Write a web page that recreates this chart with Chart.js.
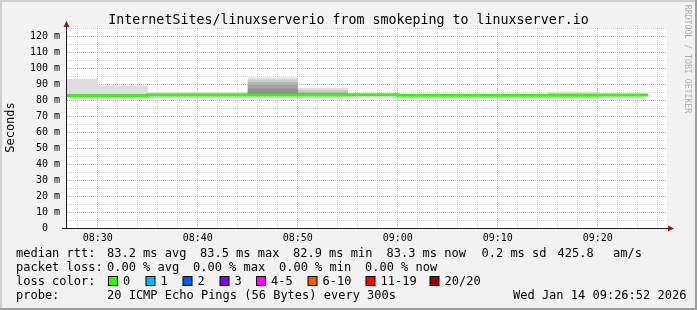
<!DOCTYPE html>
<html lang="en">
<head>
<meta charset="utf-8">
<title>InternetSites/linuxserverio</title>
<script src="https://cdn.jsdelivr.net/npm/chart.js@4.4.1/dist/chart.umd.min.js"></script>
<style>
  html, body { margin: 0; padding: 0; background: #f2f2f2; }
  canvas { display: block; }
</style>
</head>
<body>
<canvas id="smokeChart" width="697" height="310"></canvas>
<script>
// 5 minute steps, labelled by the end of each step
const stepEnds = ['08:30', '08:35', '08:40', '08:45', '08:50', '08:55', '09:00', '09:05', '09:10', '09:15', '09:20', '09:25'];

// median rtt per step (ms)
const medianRtt = [82.9, 82.9, 83.4, 83.4, 83.3, 83.4, 83.5, 83.1, 83.1, 83.1, 83.1, 83.3];

// smoke: lowest ping and the upper edge of each band (outer -> inner), ms
const smokeFloor = [82.4, 82.4, 82.9, 82.9, 82.9, 83.0, 83.1, 82.7, 82.7, 82.7, 82.7, 82.9];
const smokeBand1 = [93.5, 89.2, 85.2, 85.2, 94.3, 87.7, 84.1, 83.8, 83.8, 83.8, 85.4, 84.1];
const smokeBand2 = [84.0, 84.0, 84.3, 84.3, 92.9, 86.5, 84.0, 83.7, 83.7, 83.7, 84.2, 84.0];
const smokeBand3 = [83.8, 83.8, 84.1, 84.1, 91.4, 85.4, 83.9, 83.6, 83.6, 83.6, 83.9, 83.9];
const smokeBand4 = [83.6, 83.6, 84.0, 84.0, 89.7, 84.6, 83.8, 83.5, 83.5, 83.5, 83.7, 83.8];
const smokeBand5 = [83.4, 83.4, 83.8, 83.8, 87.2, 84.2, 83.7, 83.4, 83.4, 83.4, 83.5, 83.6];
const smokeBand6 = [83.2, 83.2, 83.6, 83.6, 84.6, 83.9, 83.6, 83.3, 83.3, 83.3, 83.3, 83.5];

// axes
const windowStart = '08:26:55';
const windowEnd = '09:26:55';
const timeLabels = ['08:30', '08:40', '08:50', '09:00', '09:10', '09:20'];
const rttTicks = [0, 10, 20, 30, 40, 50, 60, 70, 80, 90, 100, 110, 120];
const rttTickLabels = ['0', '10 m', '20 m', '30 m', '40 m', '50 m', '60 m', '70 m', '80 m', '90 m', '100 m', '110 m', '120 m'];
const rttMax = 125.3;

// legend text
const chartTitle = 'InternetSites/linuxserverio from smokeping to linuxserver.io';
const rttStats = ['83.2 ms avg', '83.5 ms max', '82.9 ms min', '83.3 ms now', '0.2 ms sd', '425.8', 'am/s'];
const lossStats = ['0.00 % avg', '0.00 % max', '0.00 % min', '0.00 % now'];
const lossLabels = ['0', '1', '2', '3', '4-5', '6-10', '11-19', '20/20'];
const lossColors = ['#26ff00', '#00b8ff', '#0059ff', '#7e00ff', '#ff00ff', '#ff5500', '#ff0000', '#a10000'];
const probeText = '20 ICMP Echo Pings (56 Bytes) every 300s';
const stampText = 'Wed Jan 14 09:26:52 2026';

// styles
const mono = '"DejaVu Sans Mono", monospace';
const smokeShades = ['#dddddd', '#cacaca', '#b7b7b7', '#a4a4a4', '#919191', '#7e7e7e'];
const gridMinor = 'rgba(143, 143, 143, 0.35)';
const gridMajor = 'rgba(222, 79, 79, 0.5)';
const arrowColor = '#801f1f';
const stepMinutes = 5;

function toMin(t) {
    const [h, m, s = 0] = t.split(':').map(Number);
    return h * 60 + m + s / 60;
}

const viewMin = toMin(windowStart);
const viewMax = toMin(windowEnd);
const timeTickMins = timeLabels.map(toMin);
const minorTimeTicks = [];
for (let v = Math.ceil(viewMin / 2) * 2; v < viewMax; v += 2) minorTimeTicks.push(v);
const minorRttTicks = [];
for (let v = 0; v <= rttMax; v += 5) minorRttTicks.push(v);

// step series: each value holds from its step start to its step end
function stepped(values) {
    const pts = values.map((v, i) => ({ x: toMin(stepEnds[i]) - stepMinutes, y: v }));
    pts.push({ x: toMin(stepEnds[stepEnds.length - 1]), y: values[values.length - 1] });
    return pts;
}

const hidden = 'rgba(0, 0, 0, 0)';
const datasets = [
    {
        label: 'median rtt',
        data: stepped(medianRtt),
        borderColor: lossColors[0],
        borderWidth: 3,
        stepped: 'before',
        pointRadius: 0,
        fill: false,
        order: 0,
        clip: 0
    },
    {
        label: 'floor',
        data: stepped(smokeFloor),
        borderColor: hidden,
        borderWidth: 0,
        stepped: 'before',
        pointRadius: 0,
        fill: false,
        order: 40,
        clip: 0
    }
];
[smokeBand1, smokeBand2, smokeBand3, smokeBand4, smokeBand5, smokeBand6].forEach((band, k) => {
    datasets.push({
        label: 'smoke ' + (k + 1),
        data: stepped(band),
        borderColor: hidden,
        borderWidth: 0,
        backgroundColor: smokeShades[k],
        stepped: 'before',
        pointRadius: 0,
        fill: 1,
        order: 20 - k,
        clip: 0
    });
});

// rrdtool look: background, frame, axes, arrows and legend text
const rrdFrame = {
    id: 'rrdFrame',
    beforeDraw(chart) {
        const { ctx, width, height, chartArea: a } = chart;
        ctx.save();
        ctx.fillStyle = '#f2f2f2';
        ctx.fillRect(0, 0, width, height);
        ctx.fillStyle = '#cfcfcf';
        ctx.fillRect(0, 0, width, 2);
        ctx.fillRect(0, 0, 2, height);
        ctx.fillStyle = '#9e9e9e';
        ctx.fillRect(0, height - 2, width, 2);
        ctx.fillRect(width - 2, 0, 2, height);
        ctx.fillStyle = '#ffffff';
        ctx.fillRect(a.left, a.top, a.right - a.left, a.bottom - a.top);
        ctx.restore();
    },
    afterDatasetsDraw(chart) {
        const { ctx, chartArea: a } = chart;
        ctx.save();
        ctx.strokeStyle = '#1f1f1f';
        ctx.lineWidth = 1;
        ctx.beginPath();
        ctx.moveTo(a.left - 0.5, a.bottom);
        ctx.lineTo(a.left - 0.5, a.top - 2);
        ctx.moveTo(a.left - 5, a.bottom + 0.5);
        ctx.lineTo(a.right + 1, a.bottom + 0.5);
        ctx.stroke();
        ctx.fillStyle = arrowColor;
        ctx.beginPath();
        ctx.moveTo(a.left - 3.5, a.top - 1);
        ctx.lineTo(a.left + 2.5, a.top - 1);
        ctx.lineTo(a.left - 0.5, a.top - 7);
        ctx.closePath();
        ctx.fill();
        ctx.beginPath();
        ctx.moveTo(a.right + 1, a.bottom - 2.5);
        ctx.lineTo(a.right + 1, a.bottom + 3.5);
        ctx.lineTo(a.right + 7, a.bottom + 0.5);
        ctx.closePath();
        ctx.fill();
        ctx.restore();
    },
    afterDraw(chart) {
        const { ctx, width } = chart;
        ctx.save();
        ctx.fillStyle = '#000';
        ctx.textBaseline = 'alphabetic';

        ctx.font = '13.3px ' + mono;
        ctx.textAlign = 'center';
        ctx.fillText(chartTitle, width / 2, 24);

        ctx.save();
        ctx.font = '12px ' + mono;
        ctx.translate(14, 127.5);
        ctx.rotate(-Math.PI / 2);
        ctx.fillText('Seconds', 0, 0);
        ctx.restore();

        ctx.save();
        ctx.font = '8.2px ' + mono;
        ctx.fillStyle = 'rgba(0, 0, 0, 0.3)';
        ctx.translate(684.5, 59);
        ctx.rotate(Math.PI / 2);
        ctx.fillText('RRDTOOL / TOBI OETIKER', 0, 0);
        ctx.restore();

        ctx.textAlign = 'left';
        ctx.font = '12px ' + mono;
        const col = 16, val = 107;
        // row 1: median rtt
        ctx.fillText('median rtt:', col, 257);
        const rttX = [val, 200, 293, 386.5, 481.5, 557.5, 613];
        rttStats.forEach((s, i) => ctx.fillText(s, rttX[i], 257));
        // row 2: packet loss
        ctx.fillText('packet loss:', col, 271);
        const lossX = [val, 193, 279, 365];
        lossStats.forEach((s, i) => ctx.fillText(s, lossX[i], 271));
        // row 3: loss colours
        ctx.fillText('loss color:', col, 285);
        const boxX = [108, 145.5, 182.5, 219.5, 256, 307.5, 365.5, 429.5];
        lossLabels.forEach((s, i) => {
            ctx.fillStyle = '#000';
            ctx.fillRect(boxX[i], 276, 10, 10);
            ctx.fillStyle = lossColors[i];
            ctx.fillRect(boxX[i] + 1, 277, 8, 8);
            ctx.fillStyle = '#000';
            ctx.fillText(s, boxX[i] + 15, 285);
        });
        // row 4: probe + timestamp
        ctx.fillText('probe:', col, 299);
        ctx.fillText(probeText, val, 299);
        ctx.fillText(stampText, 513, 299);
        ctx.restore();
    }
};

const ctx = document.getElementById('smokeChart').getContext('2d');
const smokeChart = new Chart(ctx, {
    type: 'line',
    data: { datasets: datasets },
    options: {
        responsive: false,
        animation: false,
        events: [],
        layout: {
            padding: { left: 0, top: 28, right: 30, bottom: 62 }
        },
        plugins: {
            legend: { display: false },
            tooltip: { enabled: false },
            title: { display: false }
        },
        scales: {
            x: {
                type: 'linear',
                min: viewMin,
                max: viewMax,
                afterBuildTicks: scale => {
                    scale.ticks = minorTimeTicks.map(v => ({ value: v }));
                },
                afterFit: scale => {
                    scale.height = 20;
                    scale.paddingLeft = 0;
                    scale.paddingRight = 0;
                },
                ticks: {
                    autoSkip: false,
                    maxRotation: 0,
                    padding: 4,
                    color: '#000',
                    font: { family: mono, size: 10 },
                    callback: value => {
                        const i = timeTickMins.indexOf(value);
                        return i >= 0 ? timeLabels[i] : '';
                    }
                },
                grid: {
                    drawTicks: false,
                    lineWidth: 1,
                    color: c => (timeTickMins.includes(c.tick.value) ? gridMajor : gridMinor)
                },
                border: { display: false, dash: [1, 1] }
            },
            y: {
                min: 0,
                max: rttMax,
                afterBuildTicks: scale => {
                    scale.ticks = minorRttTicks.map(v => ({ value: v }));
                },
                afterFit: scale => {
                    scale.width = 67;
                    scale.paddingTop = 0;
                    scale.paddingBottom = 0;
                },
                ticks: {
                    autoSkip: false,
                    padding: 7,
                    color: '#000',
                    font: { family: mono, size: 10 },
                    callback: value => {
                        const i = rttTicks.indexOf(value);
                        if (i < 0) return '';
                        const lbl = rttTickLabels[i];
                        // keep the number column when there is no unit
                        return lbl.includes(' ') ? lbl : lbl + '  ';
                    }
                },
                grid: {
                    drawTicks: false,
                    lineWidth: 1,
                    color: c => (rttTicks.includes(c.tick.value) ? gridMajor : gridMinor)
                },
                border: { display: false, dash: [1, 1] }
            }
        }
    },
    plugins: [rrdFrame]
});
</script>
</body>
</html>
